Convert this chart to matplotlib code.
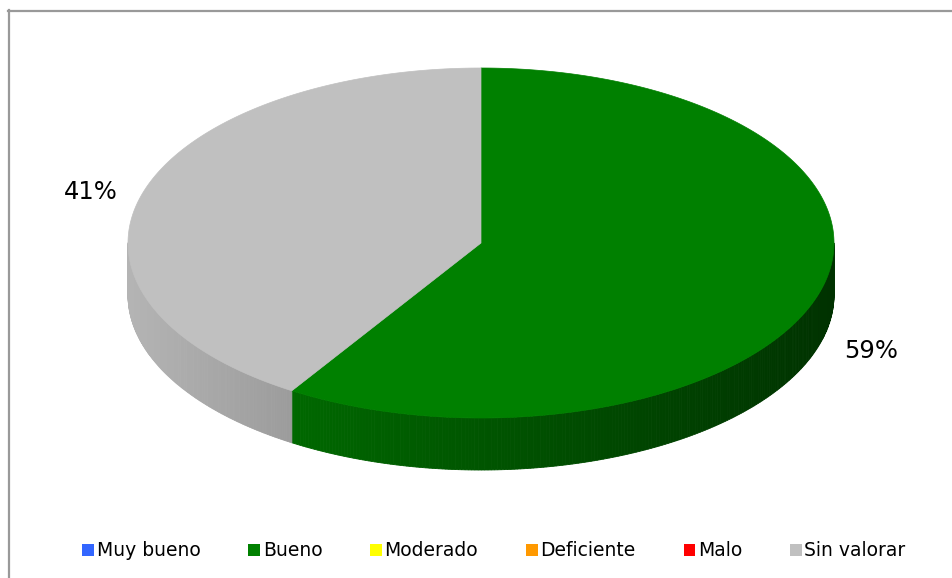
import numpy as np
import matplotlib
matplotlib.use("Agg")
import matplotlib.pyplot as plt
from matplotlib.patches import Polygon, Patch
from matplotlib.lines import Line2D

categories = ["Muy bueno", "Bueno", "Moderado", "Deficiente", "Malo", "Sin valorar"]
values = [0, 59, 0, 0, 0, 41]
colors = ["#3366FF", "#008000", "#FFFF00", "#FF9900", "#FF0000", "#C0C0C0"]

W, H = 952, 578
fig = plt.figure(figsize=(W / 100, H / 100), dpi=100)
ax = fig.add_axes([0, 0, 1, 1])
ax.set_xlim(0, W)
ax.set_ylim(H, 0)
ax.axis("off")

# pie geometry (pixels)
cx, cy, rx, ry, depth = 481, 243, 353, 175, 52


def ell(t):
    return cx + rx * np.cos(t), cy - ry * np.sin(t)


def shade(x):
    # side wall gets darker to the right
    return 0.94 - 0.55 * (x - (cx - rx)) / (2 * rx)


total = sum(values)
start = 90.0
slices = []
for v, c in zip(values, colors):
    if v <= 0:
        continue
    span = 360.0 * v / total
    a0, a1 = start, start - span  # clockwise
    slices.append((a0, a1, c, v))
    start = a1

base_rgb = {c: np.array(matplotlib.colors.to_rgb(c)) for c in colors}

# side walls (front half only)
for a0, a1, c, v in slices:
    ts = np.radians(np.linspace(a1, a0, 400))
    for i in range(len(ts) - 1):
        tm = 0.5 * (ts[i] + ts[i + 1])
        if np.sin(tm) > 0:
            continue
        x0, y0 = ell(ts[i])
        x1, y1 = ell(ts[i + 1])
        col = np.clip(base_rgb[c] * shade(0.5 * (x0 + x1)), 0, 1)
        poly = Polygon([(x0, y0), (x1, y1), (x1, y1 + depth), (x0, y0 + depth)],
                       closed=True, facecolor=col, edgecolor=col, linewidth=0.6)
        ax.add_patch(poly)

# top faces
for a0, a1, c, v in slices:
    ts = np.radians(np.linspace(a0, a1, 300))
    xs, ys = ell(ts)
    pts = [(cx, cy)] + list(zip(xs, ys))
    ax.add_patch(Polygon(pts, closed=True, facecolor=c, edgecolor=c, linewidth=0.5))

# percentage labels
for a0, a1, c, v in slices:
    tm = np.radians(0.5 * (a0 + a1))
    lx = cx + 1.15 * rx * np.cos(tm)
    ly = cy - 1.15 * ry * np.sin(tm)
    if np.sin(tm) < 0:
        ly += depth
    else:
        ly += 5
    ax.text(lx, ly, f"{v}%", fontsize=17.5, ha="center", va="center", color="black")

handles = [Patch(facecolor=c, edgecolor="none", label=l) for l, c in zip(categories, colors)]
fig.legend(handles=handles, loc="center", bbox_to_anchor=(494 / W, 1 - 551 / H), ncol=6,
           frameon=False, fontsize=13.5, handlelength=0.62, handleheight=0.62,
           handletextpad=0.15, columnspacing=2.55)

# outer border (top and left visible)
fig.add_artist(Line2D([9 / W, 9 / W], [0, 1 - 10 / H], transform=fig.transFigure,
                      color="#999999", linewidth=1.6))
fig.add_artist(Line2D([8 / W, 1], [1 - 11 / H, 1 - 11 / H], transform=fig.transFigure,
                      color="#999999", linewidth=1.6))

fig.savefig("out.png", dpi=100)
